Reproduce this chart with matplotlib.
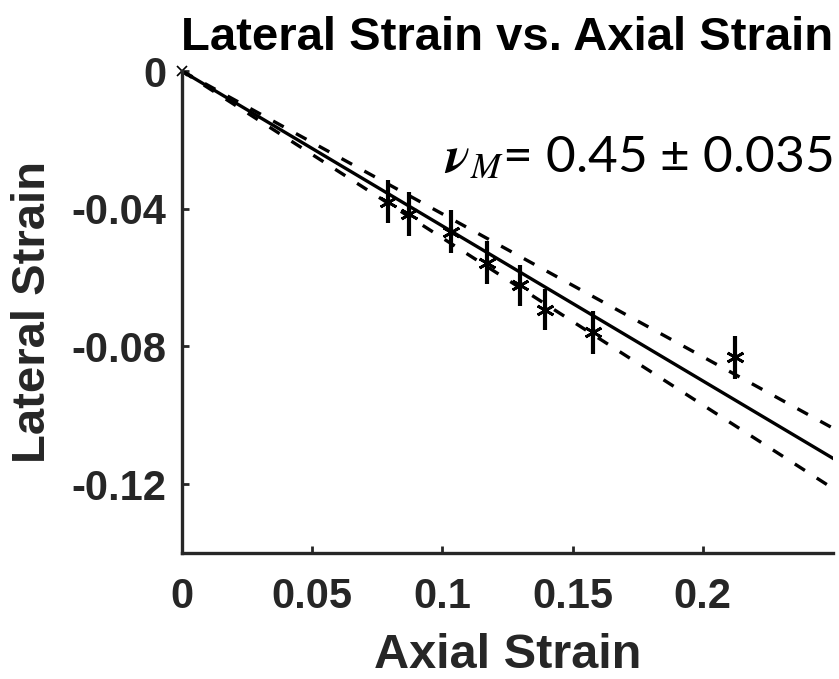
import numpy as np
import matplotlib
matplotlib.use("Agg")
import matplotlib.pyplot as plt

axial = [0.0792, 0.0873, 0.1035, 0.1173, 0.1300, 0.1396, 0.1580, 0.2125]
lateral = [-0.0380, -0.0414, -0.0467, -0.0557, -0.0623, -0.0693, -0.0759, -0.0832]
lateral_err = [0.0062, 0.0064, 0.0062, 0.0062, 0.0060, 0.0060, 0.0063, 0.0062]

# Poisson ratio fit and its bound
nu = 0.45
nu_err = 0.035

x_ticks = [0, 0.05, 0.1, 0.15, 0.2]
x_tick_labels = ["0", "0.05", "0.1", "0.15", "0.2"]
y_ticks = [-0.12, -0.08, -0.04, 0]
y_tick_labels = ["-0.12", "-0.08", "-0.04", "0"]

plt.rcParams["font.family"] = ["Liberation Sans", "DejaVu Sans"]
plt.rcParams["mathtext.fontset"] = "stix"
dark = "#262626"

fig = plt.figure(figsize=(8.39, 6.79), dpi=100)
ax = fig.add_axes([0.2169, 0.1856, 0.9928 - 0.2169, 0.8954 - 0.1856])

xfit = np.linspace(0, 0.25, 50)
dash = (0, (3.6, 4.2))
ax.plot(xfit, -nu * xfit, color="black", lw=2.4)
ax.plot(xfit, -(nu - nu_err) * xfit, color="black", lw=2.4, ls=dash)
ax.plot(xfit, -(nu + nu_err) * xfit, color="black", lw=2.4, ls=dash)

ax.errorbar(axial, lateral, yerr=lateral_err, fmt="none", ecolor="black",
            elinewidth=3, capsize=0)
ax.plot(axial, lateral, ls="none", marker=(6, 2, 0), ms=13, mew=2.0,
        color="black")
ax.plot([0], [0], ls="none", marker="x", ms=7, mew=1.2, color="black",
        clip_on=False)

ax.set_xlim(0, 0.25)
ax.set_ylim(-0.14, 0)
ax.set_xticks(x_ticks)
ax.set_xticklabels(x_tick_labels)
ax.set_yticks(y_ticks)
ax.set_yticklabels(y_tick_labels)

for side in ["top", "right"]:
    ax.spines[side].set_visible(False)
for side in ["left", "bottom"]:
    ax.spines[side].set_linewidth(2.4)
    ax.spines[side].set_color(dark)

ax.tick_params(direction="in", length=5, width=2, colors=dark, labelsize=30)
ax.tick_params(axis="x", pad=17)
ax.tick_params(axis="y", pad=11)
for lab in ax.get_xticklabels() + ax.get_yticklabels():
    lab.set_fontweight("bold")

ax.set_xlabel("Axial Strain", fontsize=35, fontweight="bold", color=dark,
              labelpad=12)
ax.set_ylabel("Lateral Strain", fontsize=34, fontweight="bold", color=dark,
              labelpad=12)
ax.set_title("Lateral Strain vs. Axial Strain", fontsize=34,
             fontweight="bold", pad=15)

ax.text(1.0, 0.79,
        r"$\boldsymbol{\nu}_{M}$" + "= 0.45 \u00b1 0.035",
        transform=ax.transAxes, ha="right", va="baseline", fontsize=37,
        family=["Lato", "DejaVu Sans"])

fig.savefig("out.png", dpi=100)
